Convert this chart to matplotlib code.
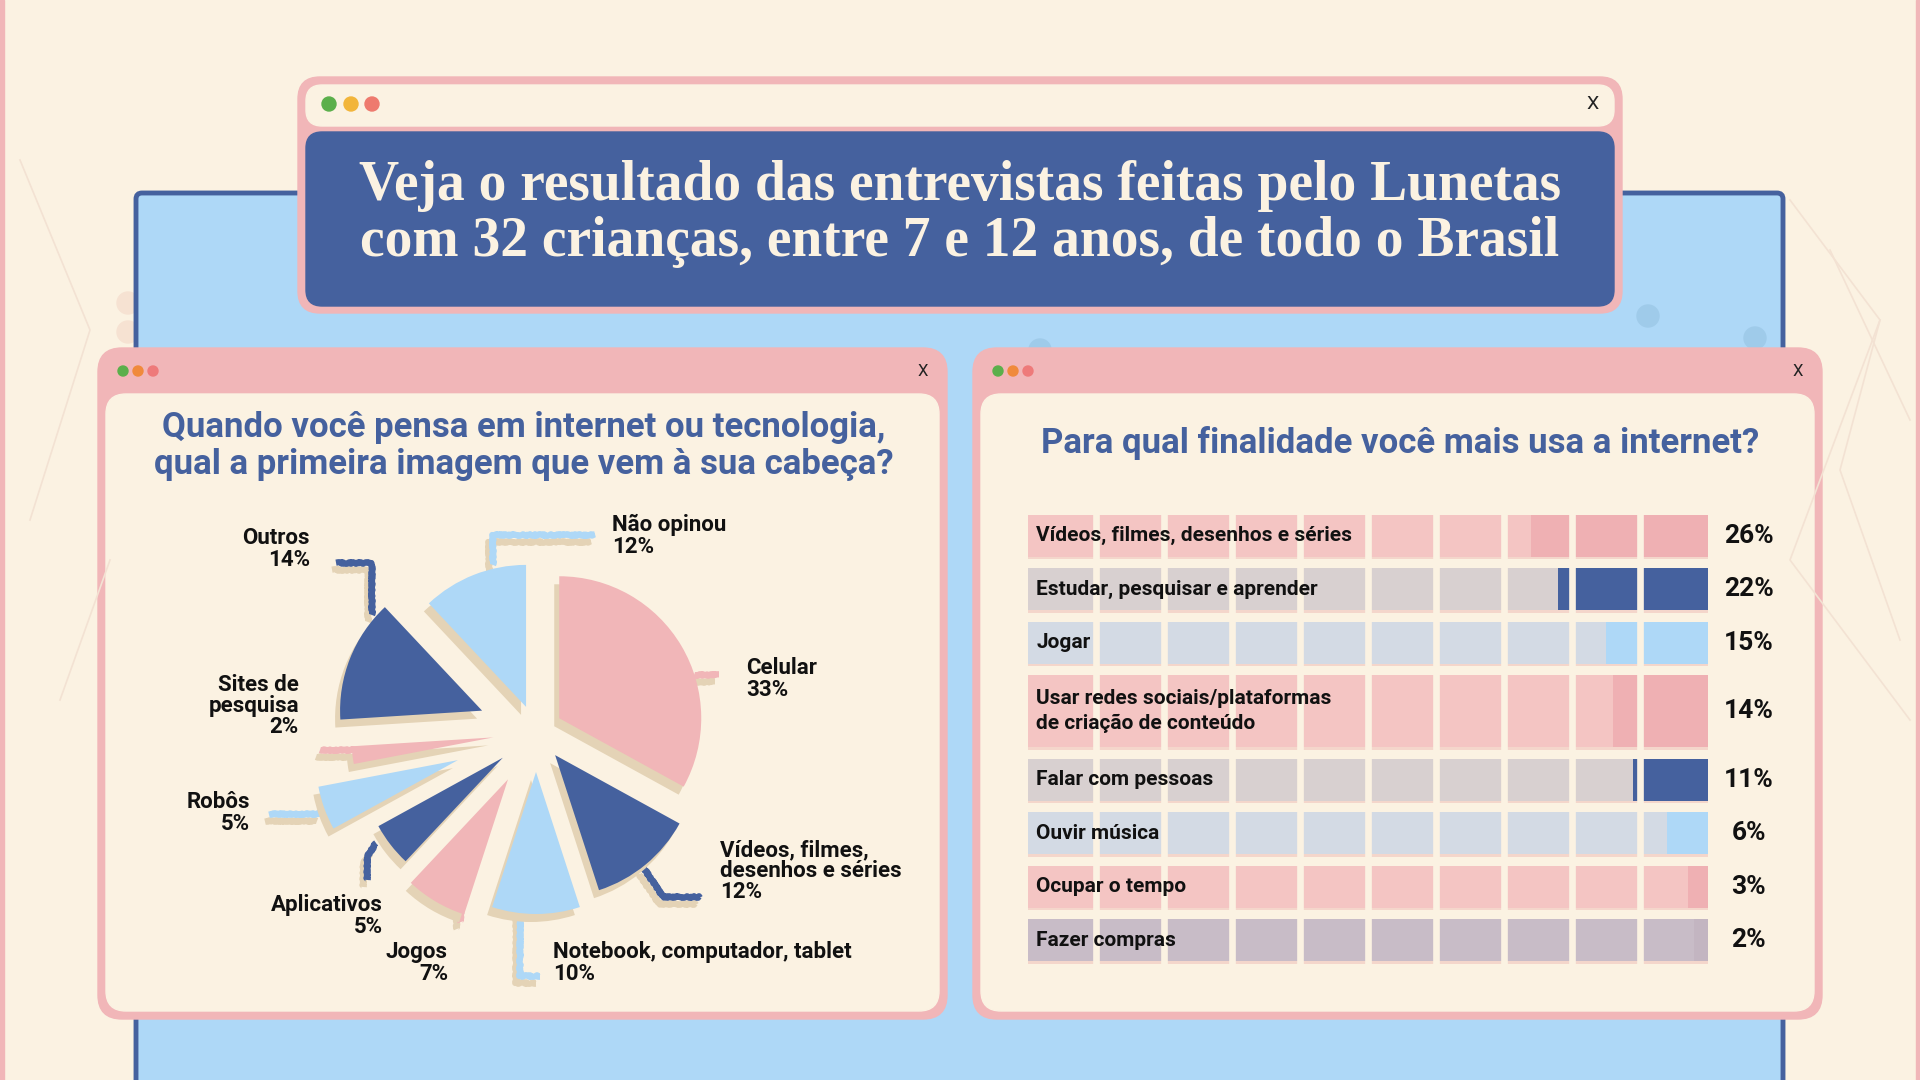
import numpy as np
import matplotlib.pyplot as plt
from matplotlib.patches import FancyBboxPatch, Rectangle, Circle

plt.rcParams["figure.dpi"] = 100
plt.rcParams["figure.facecolor"] = "#FBF2E2"

# %% data
pie_labels = ["Celular", "Vídeos, filmes,\ndesenhos e séries", "Notebook, computador, tablet",
              "Jogos", "Aplicativos", "Robôs", "Sites de\npesquisa", "Outros", "Não opinou"]
pie_pct = [33, 12, 10, 7, 5, 5, 2, 14, 12]

bar_labels = ["Vídeos, filmes, desenhos e séries", "Estudar, pesquisar e aprender", "Jogar",
              "Usar redes sociais/plataformas\nde criação de conteúdo", "Falar com pessoas",
              "Ouvir música", "Ocupar o tempo", "Fazer compras"]
bar_pct = [26, 22, 15, 14, 11, 6, 3, 2]

title = "Veja o resultado das entrevistas feitas pelo Lunetas\ncom 32 crianças, entre 7 e 12 anos, de todo o Brasil"
q_left = "Quando você pensa em internet ou tecnologia,\nqual a primeira imagem que vem à sua cabeça?"
q_right = "Para qual finalidade você mais usa a internet?"

# %% colors / fonts
CREAM = "#FBF2E2"
PINK = "#F1B6B8"
DARK = "#45619E"
LIGHT = "#AED8F7"
SHADOW = "#E4D3B6"
SERIF = ["Liberation Serif", "DejaVu Serif"]
SANS = ["Roboto", "DejaVu Sans"]

W, H = 1920, 1080
fig = plt.figure(figsize=(W / 100, H / 100))


def px_axes(z):
    a = fig.add_axes([0, 0, 1, 1], zorder=z)
    a.set_xlim(0, W)
    a.set_ylim(H, 0)
    a.axis("off")
    a.patch.set_alpha(0)
    return a


bg = px_axes(0)
top = px_axes(3)


def rbox(ax, x0, y0, x1, y1, r, **kw):
    ax.add_patch(FancyBboxPatch((x0, y0), x1 - x0, y1 - y0,
                                boxstyle=f"round,pad=0,rounding_size={r}", **kw))


def dots(ax, xs, y, r, cols):
    for x, c in zip(xs, cols):
        ax.add_patch(Circle((x, y), r, color=c, zorder=5))


# %% background
bg.add_patch(Rectangle((0, 0), 4, H, color=PINK))
bg.add_patch(Rectangle((W - 4, 0), 4, H, color=PINK))
# faint network decoration
net = [
    [(1790, 200), (1880, 320), (1840, 470), (1900, 640)],
    [(1880, 320), (1790, 560), (1910, 720)],
    [(1830, 250), (1910, 420)],
    [(20, 160), (90, 330), (30, 520)],
    [(60, 700), (110, 560)],
]
for pts in net:
    xs, ys = zip(*pts)
    bg.plot(xs, ys, color="#F3E2D3", lw=1.2)
for cy in [303, 332]:
    bg.add_patch(Circle((128, cy), 11, color="#F6E2D2"))
rbox(bg, 136, 193, 1783, 1110, 6, facecolor=LIGHT, edgecolor=DARK, linewidth=3.5)
for cx, cy in [(1648, 316), (1755, 338), (1040, 350)]:
    bg.add_patch(Circle((cx, cy), 11, color="#9FCBEA"))

# header window
rbox(bg, 298, 77, 1622, 313, 22, color=PINK)
rbox(bg, 306, 85, 1614, 126, 16, color=CREAM)
rbox(bg, 306, 132, 1614, 306, 16, color=DARK)
dots(bg, [329, 351, 372], 104, 7, ["#5BAF4B", "#F2B53A", "#EE7A6E"])
bg.text(1593, 104, "X", fontsize=14, ha="center", va="center", color="#222222", family=SANS)
bg.text(960, 214, title, fontsize=40, ha="center", va="center", color=CREAM,
        family=SERIF, weight="bold", linespacing=1.12)

# panels
for x0 in [98, 973]:
    rbox(bg, x0, 348, x0 + 849, 1019, 24, color=PINK)
    rbox(bg, x0 + 8, 394, x0 + 841, 1011, 20, color=CREAM)
    dots(bg, [x0 + 25, x0 + 40, x0 + 55], 371, 5, ["#5BAF4B", "#F08A3C", "#EE7A7A"])
    bg.text(x0 + 825, 371, "X", fontsize=12, ha="center", va="center", color="#222222", family=SANS)

bg.text(524, 446, q_left, fontsize=25, ha="center", va="center", color=DARK,
        family=SANS, weight="bold", linespacing=1.15)
bg.text(1400, 443, q_right, fontsize=25, ha="center", va="center", color=DARK,
        family=SANS, weight="bold")

# %% pie
pcx, pcy, half = 536, 732, 300
pie_ax = fig.add_axes([(pcx - half) / W, 1 - (pcy + half) / H, 2 * half / W, 2 * half / H], zorder=1)
pie_colors = [PINK, DARK, LIGHT, PINK, DARK, LIGHT, PINK, DARK, LIGHT]
offsets = [27, 30, 40, 55, 42, 83, 43, 58, 27]  # px, pie explode is in data units here
radius = 142
pie_ax.pie(pie_pct, colors=[SHADOW] * len(pie_pct), startangle=90, counterclock=False,
           radius=radius, explode=offsets, center=(-5, -8))
pie_ax.pie(pie_pct, colors=pie_colors, startangle=90, counterclock=False,
           radius=radius, explode=offsets, center=(0, 0))
pie_ax.set_xlim(-half, half)
pie_ax.set_ylim(-half, half)
pie_ax.set_aspect("equal")
pie_ax.axis("off")

# leader lines (pixel coords)
leaders = [
    ([(694, 675), (719, 675)], PINK),
    ([(643, 867), (663, 897), (700, 897)], DARK),
    ([(520, 905), (520, 976), (540, 976)], LIGHT),
    ([(462, 900), (460, 922)], PINK),
    ([(376, 843), (367, 857), (367, 880)], DARK),
    ([(321, 814), (269, 814)], LIGHT),
    ([(355, 750), (320, 750)], PINK),
    ([(372, 615), (372, 563), (336, 563)], DARK),
    ([(493, 565), (493, 535), (595, 535)], LIGHT),
]
for pts, c in leaders:
    xs, ys = zip(*pts)
    sh, = bg.plot(np.array(xs) - 4, np.array(ys) + 7, color=SHADOW, lw=4.5, solid_capstyle="butt")
    ln, = bg.plot(xs, ys, color=c, lw=4.5, solid_capstyle="butt")
    ln.set_sketch_params(scale=0.8, length=3, randomness=4)
    sh.set_sketch_params(scale=0.8, length=3, randomness=4)

label_pos = [
    (746, 679, "left"),
    (720, 871, "left"),
    (553, 963, "left"),
    (448, 963, "right"),
    (383, 916, "right"),
    (250, 813, "right"),
    (299, 706, "right"),
    (310, 549, "right"),
    (612, 536, "left"),
]
for (x, y, ha), lab, v in zip(label_pos, pie_labels, pie_pct):
    top.text(x, y, f"{lab}\n{v}%", fontsize=16, ha=ha, va="center", color="#111111",
             family=SANS, weight="bold", linespacing=0.95, multialignment=ha)

# %% bars
bx0, bx1, by0, by1 = 1028, 1708, 505, 975
bar_ax = fig.add_axes([bx0 / W, 1 - by1 / H, (bx1 - bx0) / W, (by1 - by0) / H], zorder=1)
bar_ax.set_xlim(0, 100)
bar_ax.set_ylim(by1, by0)
bar_ax.axis("off")

row_h = [45, 45, 45, 75, 45, 45, 45, 45]
gap = 8.5
tops = 513 + np.concatenate([[0], np.cumsum(np.array(row_h[:-1]) + gap)])
centers = tops + np.array(row_h) / 2
row_bg = ["#F4C5C3", "#D8D0D0", "#D3DAE4", "#F4C5C3", "#D8D0D0", "#D3DAE4", "#F4C5C3", "#C8BCC7"]
row_fg = ["#EFB0B3", DARK, LIGHT, "#EFB0B3", DARK, LIGHT, "#EFB0B3", "#C3B5C1"]

bar_ax.barh(centers + np.array(row_h) / 2 - 1, [100] * 8, height=4, color="#F4D6CB")
bar_ax.barh(centers, [100] * 8, height=np.array(row_h) - 3, color=row_bg)
bar_ax.barh(centers, bar_pct, left=[100 - v for v in bar_pct], height=np.array(row_h) - 3, color=row_fg)
for xv in range(10, 100, 10):
    bar_ax.axvline(xv, color=CREAM, lw=4.8)

for yc, lab, v in zip(centers, bar_labels, bar_pct):
    bar_ax.text(1.2, yc, lab, fontsize=15, ha="left", va="center", color="#111111",
                family=SANS, weight="bold", linespacing=1.35)
    bar_ax.text(106, yc, f"{v}%", fontsize=19, ha="center", va="center", color="#111111",
                family=SANS, weight="bold", clip_on=False)

fig.savefig("out.png", dpi=100, facecolor=CREAM)
